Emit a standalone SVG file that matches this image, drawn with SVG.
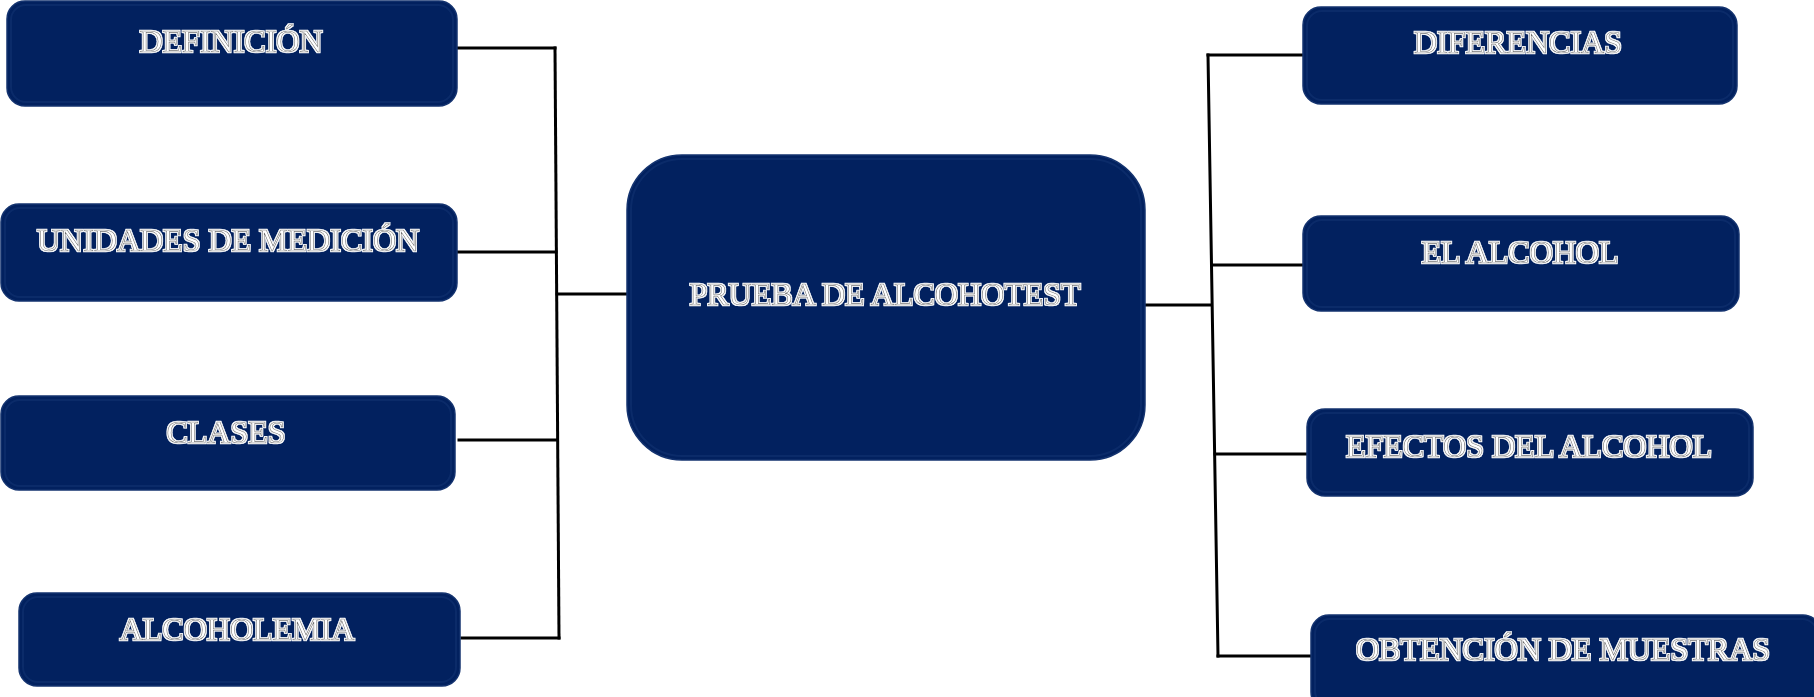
<svg xmlns="http://www.w3.org/2000/svg" width="1814" height="697" viewBox="0 0 1814 697">
  <defs>
    <filter id="halo" x="-5%" y="-30%" width="110%" height="160%">
      <feMorphology in="SourceAlpha" operator="dilate" radius="1" result="d"/>
      <feFlood flood-color="#ffffff"/>
      <feComposite in2="d" operator="in" result="w"/>
      <feMerge><feMergeNode in="w"/><feMergeNode in="SourceGraphic"/></feMerge>
    </filter>
  </defs>
  <style>
    .box { fill: #02215f; stroke: #14336f; stroke-width: 1.5; }
    .inner { fill: none; stroke: #3a5a9a; stroke-width: 2; stroke-opacity: 0.18; }
    .lbl { font-family: "Liberation Serif", "Times New Roman", serif; font-size: 32px; fill: #ffffff; stroke: #6e6e6e; stroke-width: 0.6; text-anchor: middle; filter: url(#halo); }
    .conn { stroke: #000000; stroke-width: 3; fill: none; stroke-linecap: square; }
  </style>
  <rect width="1814" height="697" fill="#ffffff"/>

  <g id="connectors">
    <line class="conn" x1="555" y1="48" x2="559" y2="638"/>
    <line class="conn" x1="458" y1="48" x2="555" y2="48"/>
    <line class="conn" x1="458" y1="252" x2="556" y2="252"/>
    <line class="conn" x1="459" y1="440" x2="557" y2="440"/>
    <line class="conn" x1="462" y1="638" x2="559" y2="638"/>
    <line class="conn" x1="557" y1="294" x2="627" y2="294"/>
    <line class="conn" x1="1208" y1="55" x2="1218" y2="656"/>
    <line class="conn" x1="1208" y1="55" x2="1304" y2="55"/>
    <line class="conn" x1="1212" y1="265" x2="1304" y2="265"/>
    <line class="conn" x1="1215" y1="454" x2="1308" y2="454"/>
    <line class="conn" x1="1218" y1="656" x2="1311" y2="656"/>
    <line class="conn" x1="1138" y1="305" x2="1211" y2="305"/>
  </g>

  <g id="node-definicion">
    <rect class="box" x="7" y="1" width="450" height="105" rx="18"/>
    <rect class="inner" x="11" y="5" width="442" height="97" rx="15"/>
    <text class="lbl" x="231" y="52">DEFINICIÓN</text>
  </g>
  <g id="node-unidades">
    <rect class="box" x="1" y="204" width="456" height="97" rx="18"/>
    <rect class="inner" x="5" y="208" width="448" height="89" rx="15"/>
    <text class="lbl" x="228" y="251">UNIDADES DE MEDICIÓN</text>
  </g>
  <g id="node-clases">
    <rect class="box" x="1" y="396" width="454" height="94" rx="18"/>
    <rect class="inner" x="5" y="400" width="446" height="86" rx="15"/>
    <text class="lbl" x="226" y="443">CLASES</text>
  </g>
  <g id="node-alcoholemia">
    <rect class="box" x="19" y="593" width="441" height="93" rx="18"/>
    <rect class="inner" x="23" y="597" width="433" height="85" rx="15"/>
    <text class="lbl" x="237" y="640">ALCOHOLEMIA</text>
  </g>
  <g id="node-prueba">
    <rect class="box" x="627" y="155" width="518" height="305" rx="55"/>
    <rect class="inner" x="631" y="159" width="510" height="297" rx="51"/>
    <text class="lbl" x="885" y="305">PRUEBA DE ALCOHOTEST</text>
  </g>
  <g id="node-diferencias">
    <rect class="box" x="1303" y="7" width="434" height="97" rx="18"/>
    <rect class="inner" x="1307" y="11" width="426" height="89" rx="15"/>
    <text class="lbl" x="1518" y="53">DIFERENCIAS</text>
  </g>
  <g id="node-el-alcohol">
    <rect class="box" x="1303" y="216" width="436" height="95" rx="18"/>
    <rect class="inner" x="1307" y="220" width="428" height="87" rx="15"/>
    <text class="lbl" x="1520" y="263">EL ALCOHOL</text>
  </g>
  <g id="node-efectos">
    <rect class="box" x="1307" y="409" width="446" height="87" rx="18"/>
    <rect class="inner" x="1311" y="413" width="438" height="79" rx="15"/>
    <text class="lbl" x="1529" y="457">EFECTOS DEL ALCOHOL</text>
  </g>
  <g id="node-obtencion">
    <rect class="box" x="1311" y="615" width="510" height="95" rx="18"/>
    <rect class="inner" x="1315" y="619" width="502" height="87" rx="15"/>
    <text class="lbl" x="1563" y="660">OBTENCIÓN DE MUESTRAS</text>
  </g>
</svg>
